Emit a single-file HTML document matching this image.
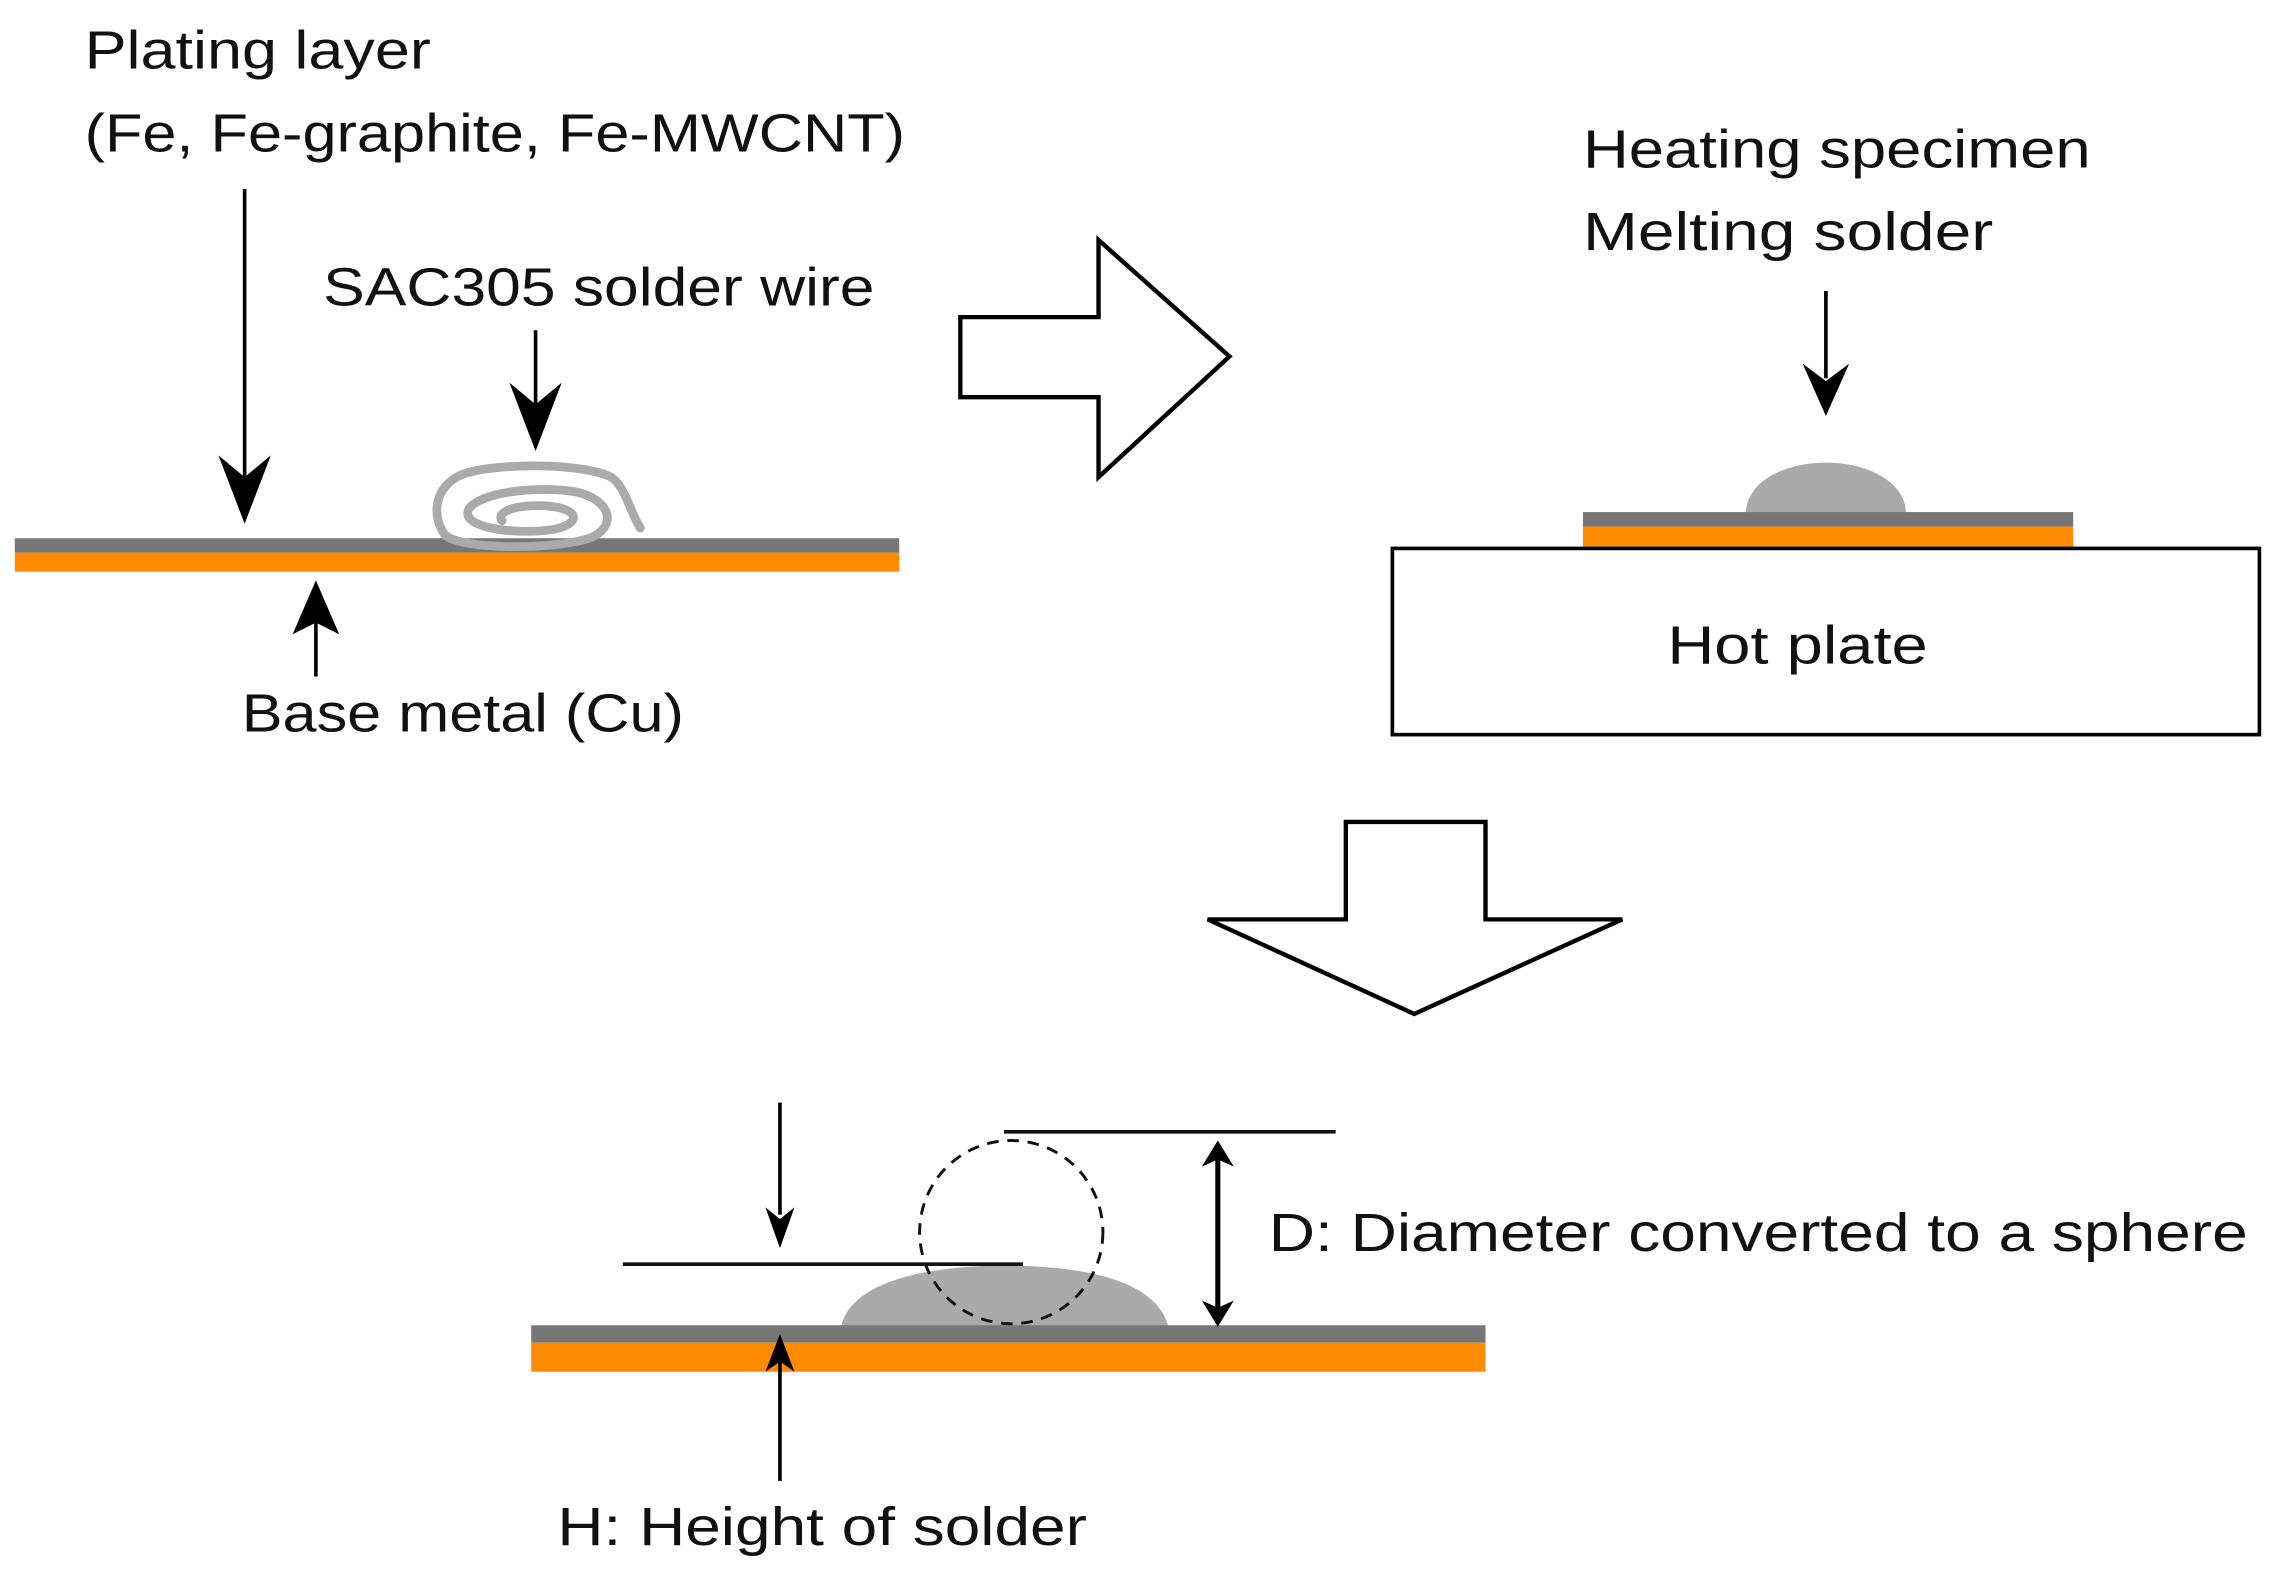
<!DOCTYPE html>
<html><head><meta charset="utf-8"><style>html,body{margin:0;padding:0;background:#fff}svg{display:block}</style></head>
<body>
<svg width="2280" height="1574" viewBox="0 0 1567 1082" xmlns="http://www.w3.org/2000/svg" font-family="Liberation Sans, sans-serif" font-size="37" fill="#111">
<rect width="1567" height="1082" fill="#fff"/>
<!-- texts -->
<text x="58" y="47" textLength="238" lengthAdjust="spacingAndGlyphs">Plating layer</text>
<text x="58" y="104" textLength="564" lengthAdjust="spacingAndGlyphs">(Fe, Fe-graphite, Fe-MWCNT)</text>
<text x="222" y="210" textLength="379" lengthAdjust="spacingAndGlyphs">SAC305 solder wire</text>
<text x="166" y="503" textLength="304" lengthAdjust="spacingAndGlyphs">Base metal (Cu)</text>
<text x="1088" y="115" textLength="349" lengthAdjust="spacingAndGlyphs">Heating specimen</text>
<text x="1088" y="172" textLength="282" lengthAdjust="spacingAndGlyphs">Melting solder</text>
<text x="1146" y="456" textLength="179" lengthAdjust="spacingAndGlyphs">Hot plate</text>
<text x="872" y="860" textLength="673" lengthAdjust="spacingAndGlyphs">D: Diameter converted to a sphere</text>
<text x="383" y="1062" textLength="364" lengthAdjust="spacingAndGlyphs">H: Height of solder</text>

<!-- panel 1 -->
<line x1="168" y1="130" x2="168" y2="330" stroke="#000" stroke-width="2.5"/>
<path d="M150,313 L168,360 L186,313 L168,328 z" fill="#000"/>
<line x1="368" y1="227" x2="368" y2="280" stroke="#000" stroke-width="2.5"/>
<path d="M350,263 L368,310 L386,263 L368,278 z" fill="#000"/>
<rect x="10" y="370" width="608" height="10" fill="#777"/>
<rect x="10" y="380" width="608" height="13" fill="#ff8c00"/>
<g fill="none" stroke="#aaa" stroke-width="6" stroke-linecap="round">
<path d="M440,363 C432,350 430,335 420,328 C400,318 340,318 318,326 C298,334 296,355 306,368 C318,378 380,378 405,370 C425,362 420,343 395,338 C370,334 330,338 322,350 C316,362 350,368 380,364 C400,360 398,350 378,348 C355,346 340,352 345,358"/>
</g>
<line x1="217" y1="465" x2="217" y2="420" stroke="#000" stroke-width="2.5"/>
<path d="M201,436 L217,399 L233,436 L217,428 z" fill="#000"/>

<!-- right arrow -->
<path d="M660,218 L755,218 L755,165 L845,245 L755,328 L755,273 L660,273 z" fill="#fff" stroke="#000" stroke-width="3"/>

<!-- panel 2 -->
<line x1="1255" y1="200" x2="1255" y2="260" stroke="#000" stroke-width="2.5"/>
<path d="M1239,250 L1255,286 L1271,250 L1255,262 z" fill="#000"/>
<path d="M1200,353 C1200,332 1225,318 1255,318 C1285,318 1310,332 1310,353 z" fill="#aaa"/>
<rect x="1088" y="352" width="337" height="10" fill="#777"/>
<rect x="1088" y="362" width="337" height="15" fill="#ff8c00"/>
<rect x="957" y="377" width="596" height="128" fill="none" stroke="#000" stroke-width="2.5"/>

<!-- down arrow -->
<path d="M925,565 L1021,565 L1021,632 L1115,632 L972,697 L830,632 L925,632 z" fill="#fff" stroke="#000" stroke-width="3"/>

<!-- panel 3 -->
<path d="M578,912 C585,880 640,870 690,870 C745,870 795,880 803,912 z" fill="#aaa"/>
<rect x="365" y="911" width="656" height="12" fill="#777"/>
<rect x="365" y="923" width="656" height="20" fill="#ff8c00"/>
<line x1="428" y1="869" x2="703" y2="869" stroke="#111" stroke-width="2.5"/>
<line x1="690" y1="778" x2="918" y2="778" stroke="#111" stroke-width="2.5"/>
<circle cx="695" cy="847" r="63" fill="none" stroke="#111" stroke-width="2" stroke-dasharray="8,6"/>
<line x1="536" y1="758" x2="536" y2="835" stroke="#000" stroke-width="2.5"/>
<path d="M526,830 L536,858 L546,830 L536,838 z" fill="#000"/>
<line x1="536" y1="1018" x2="536" y2="935" stroke="#000" stroke-width="2.5"/>
<path d="M526,943 L536,917 L546,943 L536,936 z" fill="#000"/>
<line x1="837" y1="795" x2="837" y2="900" stroke="#000" stroke-width="3.5"/>
<path d="M826,802 L837,784 L848,802 L837,797 z" fill="#000"/>
<path d="M826,894 L837,912 L848,894 L837,899 z" fill="#000"/>
</svg>
</body></html>
